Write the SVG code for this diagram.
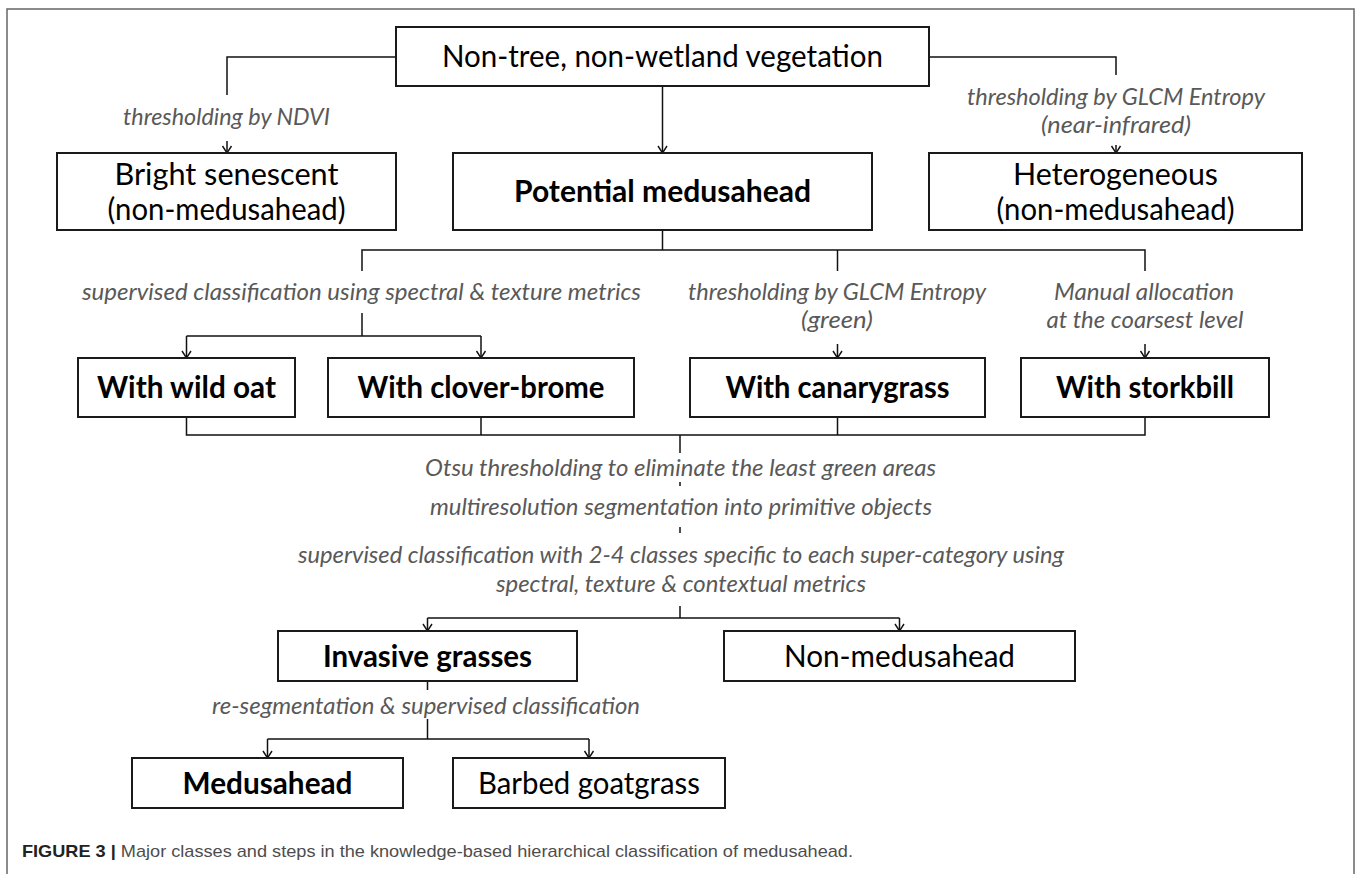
<svg xmlns="http://www.w3.org/2000/svg" width="1358" height="874" viewBox="0 0 1358 874">
<style>
.box{fill:#fff;stroke:#1a1a1a;stroke-width:2}
.nt{font-family:Lato,"Liberation Sans",sans-serif;font-size:30px;fill:#000;text-anchor:middle}
.b{font-weight:bold}
.lbl{font-family:Lato,"Liberation Sans",sans-serif;font-style:italic;font-size:24px;fill:#595959;text-anchor:middle}
.c{fill:none;stroke:#111;stroke-width:1.5}
.a{marker-end:url(#ah)}
</style>
<defs>
<marker id="ah" viewBox="-1 -6 10 12" refX="8" refY="0" markerWidth="10" markerHeight="12" markerUnits="userSpaceOnUse" orient="auto">
<path d="M1,-4.5 L8,0 L1,4.5" fill="none" stroke="#111" stroke-width="1.4"/>
</marker>
</defs>
<rect width="1358" height="874" fill="#fff"/>
<path d="M7,880 V9 H1354 V880" fill="none" stroke="#666" stroke-width="1.5"/>

<g id="connectors">
<path class="c" d="M396,57 H227 V95"/>
<path class="c a" d="M227,141 V153"/>
<path class="c" d="M929,57 H1116 V75"/>
<path class="c a" d="M1116,145 V153"/>
<path class="c a" d="M662.5,86 V153"/>
<path class="c" d="M662.5,230 V250"/>
<path class="c" d="M362,271 V250 H1145 V271"/>
<path class="c" d="M837.5,250 V271"/>
<path class="c" d="M362,313 V336"/>
<path class="c" d="M186.5,336 H481"/>
<path class="c a" d="M186.5,336 V358"/>
<path class="c a" d="M481,336 V358"/>
<path class="c a" d="M837.5,344 V358"/>
<path class="c a" d="M1145,344 V358"/>
<path class="c" d="M186.5,417 V435 H1145 V417"/>
<path class="c" d="M481,417 V435"/>
<path class="c" d="M837.5,417 V435"/>
<path class="c" d="M680,435 V453"/>
<path class="c" d="M680,482 V486"/>
<path class="c" d="M680,527 V533"/>
<path class="c" d="M680,606 V618"/>
<path class="c" d="M427.5,618 H899.5"/>
<path class="c a" d="M427.5,618 V631"/>
<path class="c a" d="M899.5,618 V631"/>
<path class="c" d="M427.5,681 V690"/>
<path class="c" d="M427.5,719 V739"/>
<path class="c" d="M267.5,739 H589"/>
<path class="c a" d="M267.5,739 V758"/>
<path class="c a" d="M589,739 V758"/>
</g>

<g id="labels">
<text class="lbl" x="226.5" y="125" textLength="207" lengthAdjust="spacingAndGlyphs">thresholding by NDVI</text>
<text class="lbl" x="1116" y="105" textLength="298" lengthAdjust="spacingAndGlyphs">thresholding by GLCM Entropy</text>
<text class="lbl" x="1116" y="133" textLength="150" lengthAdjust="spacingAndGlyphs">(near-infrared)</text>
<text class="lbl" x="361.5" y="300" textLength="559" lengthAdjust="spacingAndGlyphs">supervised classification using spectral &amp; texture metrics</text>
<text class="lbl" x="837" y="300" textLength="298" lengthAdjust="spacingAndGlyphs">thresholding by GLCM Entropy</text>
<text class="lbl" x="837" y="328" textLength="72" lengthAdjust="spacingAndGlyphs">(green)</text>
<text class="lbl" x="1144" y="300" textLength="180" lengthAdjust="spacingAndGlyphs">Manual allocation</text>
<text class="lbl" x="1145" y="328" textLength="197" lengthAdjust="spacingAndGlyphs">at the coarsest level</text>
<text class="lbl" x="680.5" y="476" textLength="511" lengthAdjust="spacingAndGlyphs">Otsu thresholding to eliminate the least green areas</text>
<text class="lbl" x="681" y="515" textLength="502" lengthAdjust="spacingAndGlyphs">multiresolution segmentation into primitive objects</text>
<text class="lbl" x="681" y="563" textLength="766" lengthAdjust="spacingAndGlyphs">supervised classification with 2-4 classes specific to each super-category using</text>
<text class="lbl" x="681" y="592" textLength="370" lengthAdjust="spacingAndGlyphs">spectral, texture &amp; contextual metrics</text>
<text class="lbl" x="426" y="714" textLength="428" lengthAdjust="spacingAndGlyphs">re-segmentation &amp; supervised classification</text>
</g>

<g id="n-top"><rect class="box" x="396" y="27" width="533" height="59"/>
<text class="nt" x="662.5" y="67" textLength="441" lengthAdjust="spacingAndGlyphs">Non-tree, non-wetland vegetation</text></g>
<g id="n-bright"><rect class="box" x="57" y="153" width="339" height="77"/>
<text class="nt" x="226.5" y="185" textLength="224" lengthAdjust="spacingAndGlyphs">Bright senescent</text>
<text class="nt" x="226.5" y="220" textLength="238" lengthAdjust="spacingAndGlyphs">(non-medusahead)</text></g>
<g id="n-potential"><rect class="box" x="453" y="153" width="419" height="77"/>
<text class="nt b" x="662.5" y="202" textLength="297" lengthAdjust="spacingAndGlyphs">Potential medusahead</text></g>
<g id="n-hetero"><rect class="box" x="929" y="153" width="373" height="77"/>
<text class="nt" x="1115.5" y="185" textLength="205" lengthAdjust="spacingAndGlyphs">Heterogeneous</text>
<text class="nt" x="1115.5" y="220" textLength="238" lengthAdjust="spacingAndGlyphs">(non-medusahead)</text></g>
<g id="n-wildoat"><rect class="box" x="78" y="358" width="217" height="59"/>
<text class="nt b" x="186.5" y="398" textLength="179" lengthAdjust="spacingAndGlyphs">With wild oat</text></g>
<g id="n-clover"><rect class="box" x="328" y="358" width="306" height="59"/>
<text class="nt b" x="481" y="398" textLength="247" lengthAdjust="spacingAndGlyphs">With clover-brome</text></g>
<g id="n-canary"><rect class="box" x="690" y="358" width="295" height="59"/>
<text class="nt b" x="837.5" y="398" textLength="224" lengthAdjust="spacingAndGlyphs">With canarygrass</text></g>
<g id="n-stork"><rect class="box" x="1021" y="358" width="248" height="59"/>
<text class="nt b" x="1145" y="398" textLength="178" lengthAdjust="spacingAndGlyphs">With storkbill</text></g>
<g id="n-invasive"><rect class="box" x="278" y="631" width="299" height="50"/>
<text class="nt b" x="427.5" y="667" textLength="209" lengthAdjust="spacingAndGlyphs">Invasive grasses</text></g>
<g id="n-nonmed"><rect class="box" x="724" y="631" width="351" height="50"/>
<text class="nt" x="899.5" y="667" textLength="231" lengthAdjust="spacingAndGlyphs">Non-medusahead</text></g>
<g id="n-medusahead"><rect class="box" x="132" y="758" width="271" height="50"/>
<text class="nt b" x="267.5" y="794" textLength="170" lengthAdjust="spacingAndGlyphs">Medusahead</text></g>
<g id="n-barbed"><rect class="box" x="453" y="758" width="272" height="50"/>
<text class="nt" x="589" y="794" textLength="222" lengthAdjust="spacingAndGlyphs">Barbed goatgrass</text></g>

<text x="22" y="857" font-family="'Liberation Sans',Arial,sans-serif" font-size="17" fill="#4d4d4d" textLength="831" lengthAdjust="spacingAndGlyphs"><tspan font-weight="bold" fill="#222">FIGURE 3 |</tspan> Major classes and steps in the knowledge-based hierarchical classification of medusahead.</text>
</svg>
